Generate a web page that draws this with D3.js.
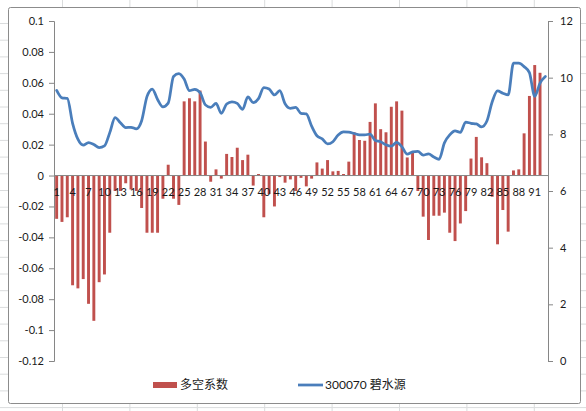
<!DOCTYPE html>
<html>
<head>
<meta charset="utf-8">
<script src="https://cdn.jsdelivr.net/npm/d3@7/dist/d3.min.js"></script>
<style>
  html, body { margin: 0; padding: 0; background: #fff; }
  svg { display: block; }
  text { font-family: Lato, "Noto Sans CJK SC", sans-serif; fill: #1a1a1a; }
</style>
</head>
<body>
<script>
// ---------- data ----------
const categories = [1,2,3,4,5,6,7,8,9,10,11,12,13,14,15,16,17,18,19,20,21,22,23,24,25,26,27,28,29,30,
  31,32,33,34,35,36,37,38,39,40,41,42,43,44,45,46,47,48,49,50,51,52,53,54,55,56,57,58,59,60,
  61,62,63,64,65,66,67,68,69,70,71,72,73,74,75,76,77,78,79,80,81,82,83,84,85,86,87,88,89,90,91,92,93];

const coefValues = [-0.028,-0.030,-0.027,-0.071,-0.073,-0.067,-0.083,-0.094,-0.069,-0.064,
  -0.037,-0.010,-0.010,-0.005,-0.009,-0.010,-0.021,-0.037,-0.037,-0.037,
  -0.015,0.007,-0.015,-0.019,0.048,0.050,0.048,0.055,0.022,-0.004,
  0.004,-0.002,0.014,0.012,0.018,0.010,0.0135,-0.0065,0.001,-0.027,
  -0.012,-0.020,-0.001,-0.0046,-0.0025,-0.010,-0.0015,-0.007,-0.002,0.0085,
  0.0045,0.010,0.0027,0.003,0.001,0.009,0.028,0.023,0.0225,0.0347,
  0.0467,0.030,0.028,0.0445,0.048,0.042,0.0117,0.0154,-0.010,-0.0266,
  -0.0417,-0.026,-0.026,-0.024,-0.037,-0.0424,-0.031,-0.023,0.011,0.025,
  0.0118,0.008,-0.0137,-0.0445,-0.0223,-0.0363,0.0033,0.004,0.0273,0.0515,
  0.0715,0.0665,null];

const priceValues = [9.55,9.29,9.27,8.39,7.83,7.62,7.71,7.64,7.53,7.59,
  8.06,8.59,8.41,8.24,8.25,8.19,8.48,9.33,9.60,9.23,
  8.97,9.10,10.04,10.14,9.95,9.54,9.59,9.47,9.04,8.95,
  9.09,8.74,9.07,9.15,9.09,8.88,9.32,9.12,9.26,9.65,
  9.60,9.39,9.54,9.08,8.92,8.95,8.74,8.72,8.29,7.95,
  7.84,7.66,7.74,7.98,8.09,8.08,8.03,7.98,7.98,8.01,
  7.78,7.74,7.63,7.58,7.72,7.56,7.30,7.38,7.40,7.27,
  7.31,7.20,7.12,7.70,7.98,8.12,8.07,8.43,8.39,8.37,
  8.26,8.47,9.15,9.53,9.45,9.39,10.51,10.51,10.39,10.18,
  9.34,9.81,10.04];

const leftTicks = [-0.12,-0.1,-0.08,-0.06,-0.04,-0.02,0,0.02,0.04,0.06,0.08,0.1];
const leftTickLabels = ["-0.12","-0.1","-0.08","-0.06","-0.04","-0.02","0","0.02","0.04","0.06","0.08","0.1"];
const rightTicks = [0,2,4,6,8,10,12];
const categoryTickLabels = [1,4,7,10,13,16,19,22,25,28,31,34,37,40,43,46,49,52,55,58,61,64,67,70,73,76,79,82,85,88,91];
const seriesNames = ["多空系数", "300070 碧水源"];

// ---------- layout ----------
const W = 586, H = 411;
const plot = { left: 54, right: 548, top: 21, bottom: 361 };
const barColor = "#C0504D", lineColor = "#4A7EBB", axisColor = "#868686";

const svg = d3.select("body").append("svg").attr("width", W).attr("height", H);

// spreadsheet grid behind the chart
const grid = svg.append("g").attr("stroke", "#dadcdd").attr("stroke-width", 1);
for (let x = 62.5; x < W; x += 67.4) grid.append("line").attr("x1", x).attr("x2", x).attr("y1", 0).attr("y2", H);
for (let y = 23.5; y < H; y += 16.7) grid.append("line").attr("x1", 0).attr("x2", W).attr("y1", y).attr("y2", y);

// chart area
svg.append("rect").attr("x", 8.5).attr("y", 7.5).attr("width", 572).attr("height", 396)
  .attr("fill", "#fff").attr("stroke", "#8c8c8c").attr("stroke-width", 1).attr("rx", 2);

// ---------- scales ----------
const x = d3.scaleBand().domain(categories).range([plot.left, plot.right])
  .paddingInner(0.45).paddingOuter(0.225);
const yL = d3.scaleLinear().domain([-0.12, 0.1]).range([plot.bottom, plot.top]);
const yR = d3.scaleLinear().domain([0, 12]).range([plot.bottom, plot.top]);

// ---------- bars ----------
svg.append("g").selectAll("rect")
  .data(categories.map((c, i) => ({ c, v: coefValues[i] })).filter(d => d.v !== null))
  .join("rect")
  .attr("x", d => x(d.c))
  .attr("width", x.bandwidth())
  .attr("y", d => Math.min(yL(d.v), yL(0)))
  .attr("height", d => Math.abs(yL(d.v) - yL(0)))
  .attr("fill", barColor);

// ---------- axes ----------
const fontSize = "11px";
const axL = svg.append("g").attr("transform", `translate(${plot.left},0)`)
  .call(d3.axisLeft(yL).tickValues(leftTicks).tickSize(5).tickPadding(5)
    .tickFormat((d, i) => leftTickLabels[i]));
const axR = svg.append("g").attr("transform", `translate(${plot.right},0)`)
  .call(d3.axisRight(yR).tickValues(rightTicks).tickSize(5).tickPadding(7));
const axB = svg.append("g").attr("transform", `translate(0,${yL(0)})`)
  .call(d3.axisBottom(x).tickValues(categoryTickLabels).tickSize(0).tickPadding(13));
axB.select(".domain").attr("d", `M${plot.left},0H${plot.right}`);

[axL, axR, axB].forEach(a => {
  a.select(".domain").attr("stroke", axisColor);
  a.selectAll(".tick line").attr("stroke", axisColor);
  a.selectAll(".tick text").attr("font-size", fontSize).attr("font-family", "Lato, sans-serif").attr("fill", "#1a1a1a");
});

// ---------- line ----------
const line = d3.line()
  .defined(d => d.v !== null)
  .x(d => x(d.c) + x.bandwidth() / 2)
  .y(d => yR(d.v))
  .curve(d3.curveMonotoneX);
svg.append("path")
  .datum(categories.map((c, i) => ({ c, v: priceValues[i] })))
  .attr("d", line)
  .attr("fill", "none")
  .attr("stroke", lineColor)
  .attr("stroke-width", 2.75)
  .attr("stroke-linejoin", "round")
  .attr("stroke-linecap", "round");

// ---------- legend ----------
const lg = svg.append("g");
lg.append("rect").attr("x", 153).attr("y", 382).attr("width", 24).attr("height", 6).attr("fill", barColor);
lg.append("text").attr("x", 180).attr("y", 385).attr("dy", "0.35em").attr("font-size", "12px")
  .attr("font-family", "'Noto Sans CJK SC', sans-serif").text(seriesNames[0]);
lg.append("line").attr("x1", 298).attr("x2", 323).attr("y1", 385).attr("y2", 385)
  .attr("stroke", lineColor).attr("stroke-width", 2.75);
lg.append("text").attr("x", 325).attr("y", 385).attr("dy", "0.35em").attr("font-size", "12px")
  .attr("font-family", "Lato, 'Noto Sans CJK SC', sans-serif").text(seriesNames[1]);
</script>
</body>
</html>
